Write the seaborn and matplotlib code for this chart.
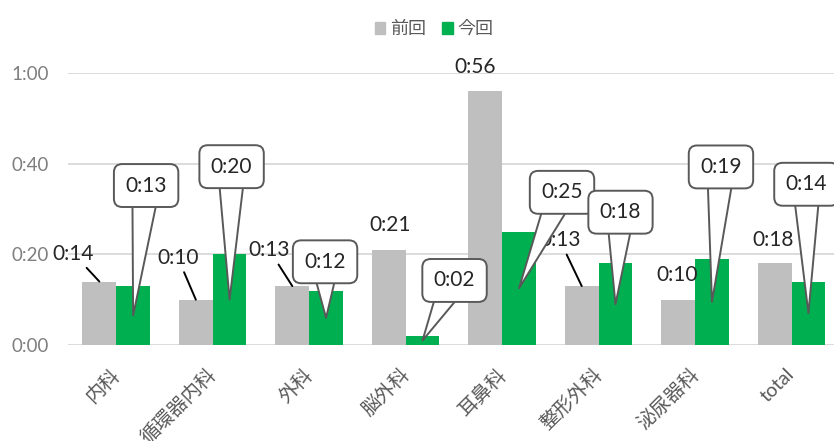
"""Waiting time per department: previous vs. current, with Excel-like callouts."""

import matplotlib.pyplot as plt
import pandas as pd
import seaborn as sns
from matplotlib.patches import Patch

departments = ["内科", "循環器内科", "外科", "脳外科", "耳鼻科", "整形外科", "泌尿器科", "total"]
prev_minutes = [14, 10, 13, 21, 56, 13, 10, 18]
curr_minutes = [13, 20, 12, 2, 25, 18, 19, 14]
series = ["前回", "今回"]
y_ticks = [0, 20, 40, 60]

GRAY = "#BFBFBF"
GREEN = "#00B050"
TEXT = "#595959"
LABEL = "#262626"

# label placement (pixels from the anchor), layout only
prev_offsets = [(-26, 28), (-18, 42), (-23, 36), (1, 25), (-10, 24), (-22, 46), (-1, 25), (-2, 23)]
prev_leader = [True, True, True, False, False, True, False, False]
curr_offsets = [(13, 130), (2, 133), (-1, 56), (32, 60), (43, 96), (5, 92), (9, 135), (-2, 129)]


def hmm(m):
    return f"{int(m) // 60}:{int(m) % 60:02d}"


df = pd.DataFrame({
    "科": departments * 2,
    "回": [series[0]] * len(departments) + [series[1]] * len(departments),
    "分": prev_minutes + curr_minutes,
})

sns.set_style("white")
plt.rcParams["font.family"] = ["Lato", "Noto Sans CJK JP", "DejaVu Sans"]

fig = plt.figure(figsize=(8.34, 4.41), dpi=100)
ax = fig.add_axes([68 / 834, 1 - 345 / 441, 1 - 68 / 834, (345 - 73) / 441])

sns.barplot(data=df, x="科", y="分", hue="回", palette=[GRAY, GREEN], width=0.7,
            saturation=1, linewidth=0, legend=False, ax=ax)

ax.set_xlim(-0.5, 7.44)
ax.set_ylim(0, 60)
ax.set_yticks(y_ticks, [hmm(v) for v in y_ticks])
ax.set_xlabel("")
ax.set_ylabel("")
ax.grid(axis="y", color="#D9D9D9", linewidth=1.3)
ax.grid(axis="x", visible=False)
ax.set_axisbelow(True)
for s in ax.spines.values():
    s.set_visible(False)
ax.tick_params(axis="y", length=0, pad=14, labelsize=13.5, labelcolor="#7F7F7F")
ax.tick_params(axis="x", length=0, pad=19, labelsize=14, labelcolor=TEXT)
plt.setp(ax.get_xticklabels(), rotation=45, ha="right", va="center", rotation_mode="anchor")

# previous values: plain labels, some with a leader line
for bar, off, lead in zip(ax.containers[0], prev_offsets, prev_leader):
    cx = bar.get_x() + bar.get_width() / 2
    h = bar.get_height()
    ax.annotate(hmm(h), xy=(cx, h), xytext=off, textcoords="offset pixels",
                ha="center", va="center", fontsize=15, color=LABEL, annotation_clip=False,
                arrowprops=dict(arrowstyle="-", color="black", lw=1.4, shrinkA=1, shrinkB=0) if lead else None)

# current values: speech-bubble callouts pointing into the bar
for bar, off in zip(ax.containers[1], curr_offsets):
    cx = bar.get_x() + bar.get_width() / 2
    h = bar.get_height()
    ax.annotate(hmm(h), xy=(cx, h / 2), xytext=off, textcoords="offset pixels",
                ha="center", va="center", fontsize=15, color=LABEL, annotation_clip=False, zorder=5,
                bbox=dict(boxstyle="round,pad=0.55,rounding_size=0.4", fc="white", ec=TEXT, lw=1.4),
                arrowprops=dict(arrowstyle="wedge,tail_width=1.3", fc="white", ec=TEXT, lw=1.4,
                                patchA=None, shrinkB=0))

fig.legend(handles=[Patch(color=GRAY), Patch(color=GREEN)], labels=series, loc="center",
           bbox_to_anchor=(434 / 834, 1 - 29 / 441), ncol=2, frameon=False, fontsize=13,
           handlelength=0.6, handleheight=0.6, handletextpad=0.25, columnspacing=0.9,
           labelcolor=TEXT)

fig.savefig("out.png", dpi=100)
